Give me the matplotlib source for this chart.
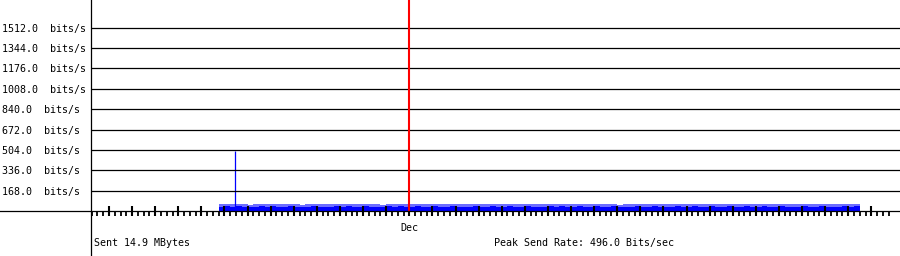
import numpy as np
import matplotlib
matplotlib.use("Agg")
import matplotlib.pyplot as plt
from matplotlib.lines import Line2D

# ---- data (bits/s, 6-hour bins, x in days) ----
bin_start_day = 4.75
bin_width_day = 0.25
max_rate = [58, 60, 55, 61, 57, 52, 59, 60, 56, 61, 54, 58, 60, 57, 52, 59, 61, 56, 58, 55,
            60, 57, 61, 54, 58, 60, 56, 59, 53, 60, 58, 61, 55, 57, 60, 56, 59, 61, 54, 58,
            60, 57, 59, 55, 61, 58, 56, 60, 57, 59, 61, 55, 58, 60, 56, 59, 57, 61, 54, 60,
            58, 56, 61, 59, 55, 60, 57, 58, 61, 52, 56, 59, 60, 55, 58, 61, 57, 54, 59, 60,
            56, 58, 61, 57, 55, 60, 59, 56, 61, 58, 54, 60, 57, 59, 61, 55, 58, 60, 56, 59,
            57, 61, 55, 58, 60, 57, 59, 56, 61, 58, 60]
avg_rate = [36, 38, 34, 39, 36, 31, 37, 38, 35, 39, 33, 36, 38, 35, 31, 37, 39, 34, 36, 34,
            38, 35, 39, 33, 36, 38, 34, 37, 32, 38, 36, 39, 34, 35, 38, 34, 37, 39, 33, 36,
            38, 35, 37, 34, 39, 36, 34, 38, 35, 37, 39, 34, 36, 38, 34, 37, 35, 39, 33, 38,
            36, 34, 39, 37, 34, 38, 35, 36, 39, 31, 34, 37, 38, 34, 36, 39, 35, 33, 37, 38,
            34, 36, 39, 35, 34, 38, 37, 34, 39, 36, 33, 38, 35, 37, 39, 34, 36, 38, 34, 37,
            35, 39, 34, 36, 38, 35, 37, 34, 39, 36, 38]
peak_day = 5.45
peak_rate = 496.0
month_day = 13
month_label = "Dec"
ytick_values = [168, 336, 504, 672, 840, 1008, 1176, 1344, 1512]
ytick_labels = [f"{v:.1f}  bits/s" for v in ytick_values]
sent_text = "Sent 14.9 MBytes"
peak_text = "Peak Send Rate: 496.0 Bits/sec"

W, H = 900, 256
fig = plt.figure(figsize=(W / 100, H / 100), dpi=100)
fig.patch.set_facecolor("white")

ax_left, ax_bottom_px, ax_top_px = 90.5, 211, 0
ax = fig.add_axes([ax_left / W, (H - ax_bottom_px) / H,
                   (W - ax_left) / W, (ax_bottom_px - ax_top_px) / H])
ax.set_facecolor("white")
ax.set_xlim(-0.80, 34.24)
ax.set_ylim(0, 1740)

edges = bin_start_day + bin_width_day * np.arange(len(max_rate) + 1)
ax.stairs(max_rate, edges, fill=True, color="#6c6cff", lw=0, zorder=1)
ax.stairs(avg_rate, edges, fill=True, color="#0000ff", lw=0, zorder=1.1)
ax.vlines(peak_day, 0, peak_rate, color="#0000ff", lw=0.9, zorder=1.2)

ax.axvline(month_day, color="#ff0000", lw=1.5, zorder=3)

for s in ax.spines.values():
    s.set_visible(False)

ax.set_yticks(ytick_values)
ax.set_yticklabels(ytick_labels, fontfamily="DejaVu Sans Mono", fontsize=7.2)
ax.tick_params(axis="y", length=0, pad=63.7)
for lab in ax.get_yticklabels():
    lab.set_horizontalalignment("left")
ax.yaxis.grid(True, color="black", lw=0.9)
ax.set_axisbelow(False)
for gl in ax.get_ygridlines():
    gl.set_zorder(0.5)

ax.set_xticks(np.arange(0, 34))
ax.set_xticks(np.arange(-0.75, 33.76, 0.25), minor=True)
ax.set_xticklabels([])
ax.tick_params(axis="x", which="major", direction="inout", length=6.8, width=1.5, color="black")
ax.tick_params(axis="x", which="minor", direction="out", length=3.4, width=1.3, color="black")

# axis lines extending over the full figure
fig.add_artist(Line2D([ax_left / W, ax_left / W], [0, 1], color="black", lw=0.9,
                      transform=fig.transFigure))
fig.add_artist(Line2D([0, 1], [(H - ax_bottom_px) / H] * 2, color="black", lw=0.9,
                      transform=fig.transFigure))

mono = dict(fontfamily="DejaVu Sans Mono", fontsize=7.2, color="black")
mx = ax.transData.transform((month_day, 0))[0]
fig.text(mx / W, 1 - 228 / H, month_label, ha="center", va="center", **mono)
fig.text(94 / W, 1 - 243 / H, sent_text, ha="left", va="center", **mono)
fig.text(494 / W, 1 - 243 / H, peak_text, ha="left", va="center", **mono)

fig.savefig("out.png", dpi=100, facecolor="white")
